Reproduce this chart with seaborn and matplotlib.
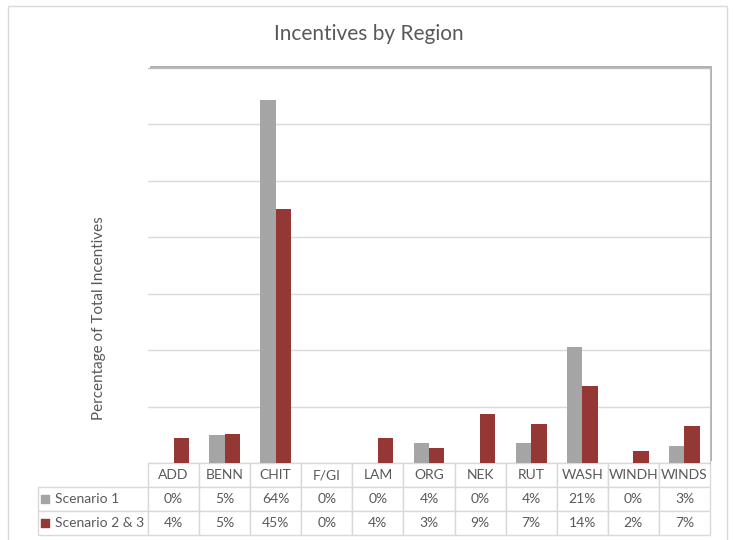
import matplotlib.pyplot as plt
import matplotlib.patheffects as pe
from matplotlib.patches import Rectangle
import pandas as pd
import seaborn as sns

# values (table shows them rounded)
regions = ['ADD', 'BENN', 'CHIT', 'F/GI', 'LAM', 'ORG', 'NEK', 'RUT', 'WASH', 'WINDH', 'WINDS']
scenario_1 = [0, 4.9, 64.3, 0, 0, 3.6, 0, 3.6, 20.6, 0, 3.1]
scenario_23 = [4.4, 5.1, 45.1, 0, 4.4, 2.7, 8.7, 6.9, 13.6, 2.1, 6.6]
series = ['Scenario 1', 'Scenario 2 & 3']
colors = ['#A5A5A5', '#953735']

df = pd.DataFrame({
    'Region': regions * 2,
    'Share': scenario_1 + scenario_23,
    'Series': [series[0]] * len(regions) + [series[1]] * len(regions),
})

sns.set_style('white')
plt.rcParams['font.family'] = ['Lato', 'DejaVu Sans']
text_col = '#595959'
line_col = '#D9D9D9'

W, H = 733, 540
fig = plt.figure(figsize=(W / 100, H / 100), dpi=100)
ax_w, ax_h = 562, 395
ax = fig.add_axes([148 / W, 1 - 463 / H, ax_w / W, ax_h / H])

sns.barplot(data=df, x='Region', y='Share', hue='Series', palette=colors,
            width=0.6, saturation=1, linewidth=0, legend=False, ax=ax)

ax.set_ylim(0, 70)
ax.set_yticks(range(0, 71, 10))
ax.set_yticklabels([])
ax.set_xticklabels([])
ax.set_xlabel('')
ax.tick_params(length=0)
ax.grid(axis='y', color=line_col, lw=1)
ax.set_axisbelow(True)
for side in ['left', 'bottom']:
    ax.spines[side].set_visible(False)
for side in ['top', 'right']:
    ax.spines[side].set_color('#BFBFBF')
ax.patch.set_facecolor('white')
ax.patch.set_path_effects([pe.SimplePatchShadow(offset=(1.5, 1.5), shadow_rgbFace='#7F7F7F', alpha=0.6),
                           pe.Normal()])

ax.set_ylabel('Percentage of Total Incentives', fontsize=11, color=text_col)
ax.yaxis.set_label_coords(-(148 - 106) / ax_w, (463 - 318) / ax_h)

fig.text(369 / W, 1 - 34 / H, 'Incentives by Region', ha='center', va='center',
         fontsize=15, color=text_col)

# data table under the plot
cell_text = [[f'{v:.0f}%' for v in scenario_1], [f'{v:.0f}%' for v in scenario_23]]
n = len(regions)
lab_w = 110 / ax_w
tbl = ax.table(cellText=cell_text, colLabels=regions, colWidths=[1 / n] * n,
               cellLoc='center', bbox=[0, -72 / ax_h, 1, 72 / ax_h])
row_h = tbl[1, 0].get_height()
for i, name in enumerate(series):
    tbl.add_cell(i + 1, -1, width=lab_w, height=row_h, text='    ' + name, loc='left')
tbl.auto_set_font_size(False)
tbl.set_fontsize(10)
for (r, c), cell in tbl.get_celld().items():
    cell.set_edgecolor(line_col)
    cell.set_linewidth(1)
    cell.get_text().set_color(text_col)
    if c == -1:
        cell.PAD = 0.03

# legend keys inside the row label cells
for i, col in enumerate(colors):
    ax.scatter([(45 - 148) / ax_w], [(463 - 499 - 24 * i) / ax_h], marker='s', s=36,
               color=col, transform=ax.transAxes, clip_on=False, zorder=5)
ax.set_xlim(-0.5, n - 0.5)

# chart border
fig.add_artist(Rectangle((8 / W, -0.01), (727 - 8) / W, 1 - 6 / H + 0.01,
                         transform=fig.transFigure, fill=False, edgecolor=line_col, lw=1))

fig.savefig('out.png', dpi=100)
